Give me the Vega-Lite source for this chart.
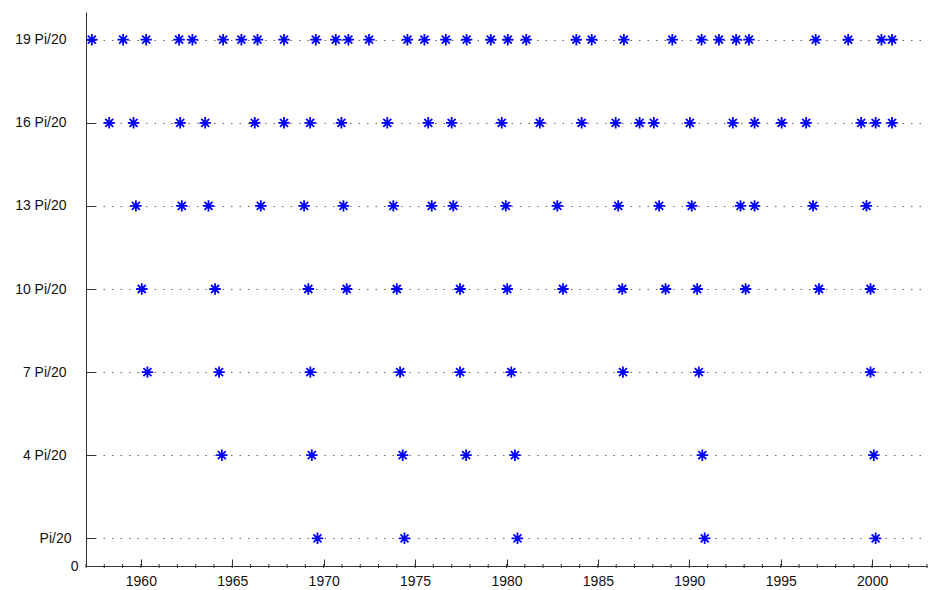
{
  "$schema": "https://vega.github.io/schema/vega-lite/v6.json",
  "width": 841,
  "height": 554,
  "autosize": {"type": "none"},
  "padding": {"left": 86, "top": 12, "right": 1, "bottom": 24},
  "background": "white",
  "config": {"view": {"stroke": null}, "font": "Liberation Sans"},
  "datasets": {
    "stars": [
      {"year": 1957.32, "level": 19}, {"year": 1959.03, "level": 19}, {"year": 1960.29, "level": 19}, {"year": 1962.09, "level": 19},
      {"year": 1962.82, "level": 19}, {"year": 1964.50, "level": 19}, {"year": 1965.50, "level": 19}, {"year": 1966.38, "level": 19},
      {"year": 1967.83, "level": 19}, {"year": 1969.57, "level": 19}, {"year": 1970.66, "level": 19}, {"year": 1971.35, "level": 19},
      {"year": 1972.48, "level": 19}, {"year": 1974.58, "level": 19}, {"year": 1975.51, "level": 19}, {"year": 1976.68, "level": 19},
      {"year": 1977.82, "level": 19}, {"year": 1979.14, "level": 19}, {"year": 1980.07, "level": 19}, {"year": 1981.08, "level": 19},
      {"year": 1983.82, "level": 19}, {"year": 1984.66, "level": 19}, {"year": 1986.42, "level": 19}, {"year": 1989.07, "level": 19},
      {"year": 1990.67, "level": 19}, {"year": 1991.62, "level": 19}, {"year": 1992.56, "level": 19}, {"year": 1993.26, "level": 19},
      {"year": 1996.91, "level": 19}, {"year": 1998.69, "level": 19}, {"year": 2000.51, "level": 19}, {"year": 2001.09, "level": 19},
      {"year": 1958.27, "level": 16}, {"year": 1959.60, "level": 16}, {"year": 1962.15, "level": 16}, {"year": 1963.52, "level": 16},
      {"year": 1966.23, "level": 16}, {"year": 1967.83, "level": 16}, {"year": 1969.26, "level": 16}, {"year": 1970.97, "level": 16},
      {"year": 1973.48, "level": 16}, {"year": 1975.72, "level": 16}, {"year": 1977.00, "level": 16}, {"year": 1979.74, "level": 16},
      {"year": 1981.82, "level": 16}, {"year": 1984.11, "level": 16}, {"year": 1985.97, "level": 16}, {"year": 1987.28, "level": 16},
      {"year": 1988.06, "level": 16}, {"year": 1990.03, "level": 16}, {"year": 1992.38, "level": 16}, {"year": 1993.57, "level": 16},
      {"year": 1995.05, "level": 16}, {"year": 1996.39, "level": 16}, {"year": 1999.40, "level": 16}, {"year": 2000.19, "level": 16},
      {"year": 2001.09, "level": 16},
      {"year": 1959.73, "level": 13}, {"year": 1962.24, "level": 13}, {"year": 1963.70, "level": 13}, {"year": 1966.56, "level": 13},
      {"year": 1968.93, "level": 13}, {"year": 1971.08, "level": 13}, {"year": 1973.81, "level": 13}, {"year": 1975.91, "level": 13},
      {"year": 1977.09, "level": 13}, {"year": 1979.96, "level": 13}, {"year": 1982.78, "level": 13}, {"year": 1986.11, "level": 13},
      {"year": 1988.35, "level": 13}, {"year": 1990.13, "level": 13}, {"year": 1992.80, "level": 13}, {"year": 1993.57, "level": 13},
      {"year": 1996.77, "level": 13}, {"year": 1999.69, "level": 13},
      {"year": 1960.05, "level": 10}, {"year": 1964.06, "level": 10}, {"year": 1969.16, "level": 10}, {"year": 1971.26, "level": 10},
      {"year": 1974.00, "level": 10}, {"year": 1977.46, "level": 10}, {"year": 1980.04, "level": 10}, {"year": 1983.09, "level": 10},
      {"year": 1986.33, "level": 10}, {"year": 1988.70, "level": 10}, {"year": 1990.43, "level": 10}, {"year": 1993.08, "level": 10},
      {"year": 1997.09, "level": 10}, {"year": 1999.91, "level": 10},
      {"year": 1960.36, "level": 7}, {"year": 1964.28, "level": 7}, {"year": 1969.27, "level": 7}, {"year": 1974.18, "level": 7},
      {"year": 1977.46, "level": 7}, {"year": 1980.26, "level": 7}, {"year": 1986.37, "level": 7}, {"year": 1990.52, "level": 7},
      {"year": 1999.91, "level": 7},
      {"year": 1964.43, "level": 4}, {"year": 1969.35, "level": 4}, {"year": 1974.32, "level": 4}, {"year": 1977.79, "level": 4},
      {"year": 1980.46, "level": 4}, {"year": 1990.71, "level": 4}, {"year": 2000.09, "level": 4},
      {"year": 1969.66, "level": 1}, {"year": 1974.42, "level": 1}, {"year": 1980.60, "level": 1}, {"year": 1990.84, "level": 1},
      {"year": 2000.19, "level": 1}
    ],
    "minor": [
      {"year": 1957}, {"year": 1958}, {"year": 1959}, {"year": 1960}, {"year": 1961}, {"year": 1962}, {"year": 1963}, {"year": 1964},
      {"year": 1965}, {"year": 1966}, {"year": 1967}, {"year": 1968}, {"year": 1969}, {"year": 1970}, {"year": 1971}, {"year": 1972},
      {"year": 1973}, {"year": 1974}, {"year": 1975}, {"year": 1976}, {"year": 1977}, {"year": 1978}, {"year": 1979}, {"year": 1980},
      {"year": 1981}, {"year": 1982}, {"year": 1983}, {"year": 1984}, {"year": 1985}, {"year": 1986}, {"year": 1987}, {"year": 1988},
      {"year": 1989}, {"year": 1990}, {"year": 1991}, {"year": 1992}, {"year": 1993}, {"year": 1994}, {"year": 1995}, {"year": 1996},
      {"year": 1997}, {"year": 1998}, {"year": 1999}, {"year": 2000}, {"year": 2001}, {"year": 2002}, {"year": 2003}
    ]
  },
  "layer": [
    {
      "data": {"name": "stars"},
      "mark": {
        "type": "point",
        "shape": "M-1,0L1,0M0,-1L0,1M-0.7,-0.7L0.7,0.7M-0.7,0.7L0.7,-0.7",
        "filled": false,
        "stroke": "#0000ff",
        "strokeWidth": 1.8,
        "size": 130,
        "opacity": 1
      },
      "encoding": {
        "x": {
          "field": "year",
          "type": "quantitative",
          "scale": {"domain": [1957, 2003], "nice": false, "zero": false},
          "axis": {
            "title": null,
            "values": [1960, 1965, 1970, 1975, 1980, 1985, 1990, 1995, 2000],
            "format": "d",
            "grid": false,
            "tickSize": -7,
            "tickColor": "#333333",
            "domainColor": "#333333",
            "labelFontSize": 14,
            "labelColor": "#111111",
            "labelPadding": 15
          }
        },
        "y": {
          "field": "level",
          "type": "quantitative",
          "scale": {"domain": [0, 20], "nice": false, "zero": false},
          "axis": {
            "title": null,
            "values": [0, 1, 4, 7, 10, 13, 16, 19],
            "labelExpr": "datum.value == 0 ? '0' : datum.value == 1 ? 'Pi/20' : datum.value + ' Pi/20'",
            "grid": true,
            "gridDash": [1.5, 7],
            "gridColor": "#666666",
            "gridWidth": 1,
            "tickSize": -9,
            "tickColor": "#333333",
            "domainColor": "#333333",
            "labelFontSize": 14,
            "labelColor": "#111111",
            "labelPadding": {"condition": [{"test": "datum.value == 0", "value": 17}, {"test": "datum.value == 1", "value": 24}], "value": 29}
          }
        }
      }
    },
    {
      "data": {"name": "minor"},
      "mark": {"type": "tick", "orient": "vertical", "size": 4, "thickness": 1, "color": "#333333", "opacity": 1},
      "encoding": {
        "x": {"field": "year", "type": "quantitative"},
        "y": {"datum": 0, "type": "quantitative"}
      }
    }
  ]
}
